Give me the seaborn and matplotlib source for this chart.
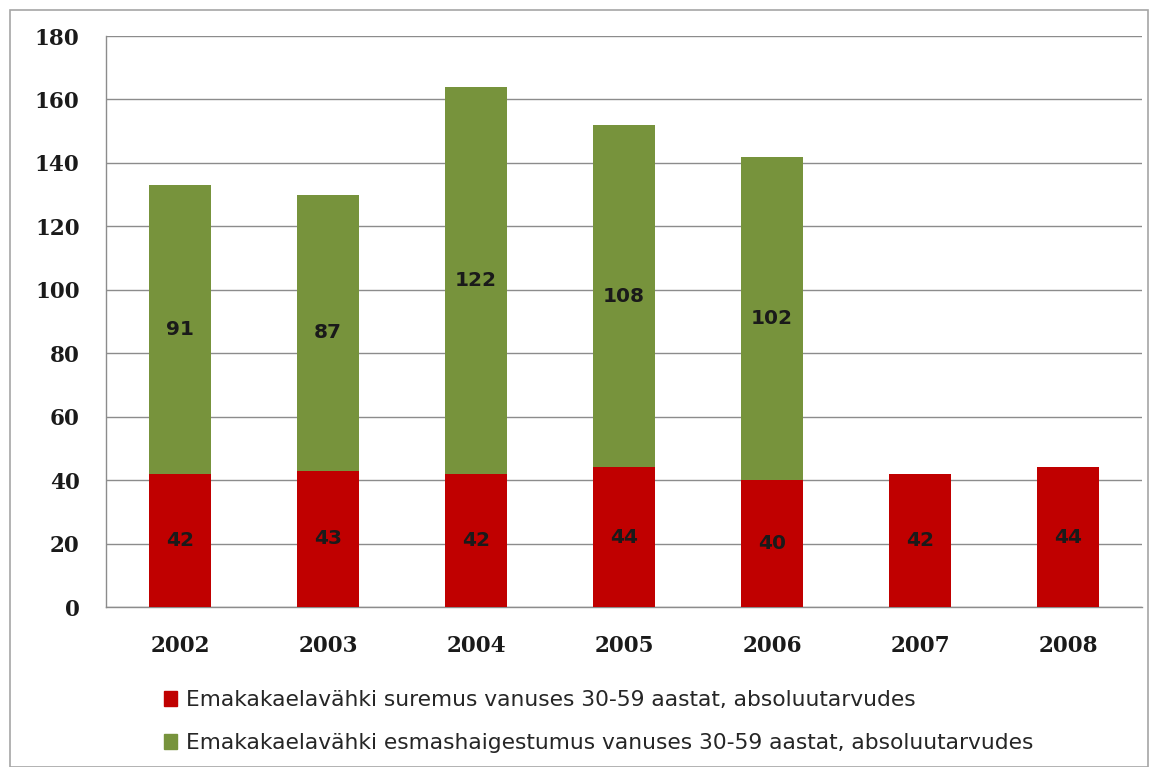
import matplotlib
matplotlib.use("Agg")
import matplotlib.pyplot as plt
import seaborn as sns
import numpy as np
import pandas as pd
from matplotlib.patches import Patch, Rectangle

years = ["2002", "2003", "2004", "2005", "2006", "2007", "2008"]
mortality = [42, 43, 42, 44, 40, 42, 44]
incidence = [91, 87, 122, 108, 102, np.nan, np.nan]
label_mort = "Emakakaelavähki suremus vanuses 30-59 aastat, absoluutarvudes"
label_inc = "Emakakaelavähki esmashaigestumus vanuses 30-59 aastat, absoluutarvudes"

RED = "#C00000"
GREEN = "#77933C"
GRID = "#8C8C8C"

sns.set_style("white")
plt.rcParams['font.family'] = ['DejaVu Sans']

df = pd.DataFrame({"year": years, "mort": mortality, "inc": incidence})
df["total"] = df["mort"] + df["inc"].fillna(0)

fig = plt.figure(figsize=(11.6, 7.67), dpi=100)
ax = fig.add_axes([0.0914, 0.2086, 0.8931, 0.7444])

sns.barplot(data=df, x="year", y="total", color=GREEN, width=0.42, ax=ax,
            saturation=1, zorder=3, linewidth=0)
sns.barplot(data=df, x="year", y="mort", color=RED, width=0.42, ax=ax,
            saturation=1, zorder=4, linewidth=0)

ax.set_xlim(-0.5, len(years) - 0.5)
ax.set_ylim(0, 180)
ax.set_yticks(np.arange(0, 181, 20))
ax.yaxis.grid(True, color=GRID, linewidth=1.0, zorder=0)
ax.set_axisbelow(True)
ax.set_xlabel("")
ax.set_ylabel("")

for s in ["top", "right"]:
    ax.spines[s].set_visible(False)
for s in ["left", "bottom"]:
    ax.spines[s].set_color(GRID)
    ax.spines[s].set_linewidth(1.0)

ax.tick_params(axis="y", length=7, width=1, color=GRID, direction="out", pad=12)
ax.tick_params(axis="x", which="major", length=0, pad=20)
ax.set_xticks(np.arange(-0.5, len(years), 1.0), minor=True)
ax.tick_params(axis="x", which="minor", length=6, width=1, color=GRID, direction="out")

for lab in ax.get_yticklabels() + ax.get_xticklabels():
    lab.set_fontfamily("DejaVu Serif")
    lab.set_fontweight("bold")
    lab.set_fontsize(15.5)
    lab.set_color("#1a1a1a")

for i, (m, inc) in enumerate(zip(mortality, incidence)):
    ax.text(i, m / 2, f"{m}", ha="center", va="center", fontsize=14.5,
            fontweight="bold", color="#1a1a1a", zorder=5)
    if not np.isnan(inc):
        ax.text(i, m + inc / 2, f"{int(inc)}", ha="center", va="center",
                fontsize=14.5, fontweight="bold", color="#1a1a1a", zorder=5)

handles = [Patch(facecolor=RED, edgecolor=RED, label=label_mort),
           Patch(facecolor=GREEN, edgecolor=GREEN, label=label_inc)]
fig.legend(handles=handles, loc="upper left", bbox_to_anchor=(0.141, 0.1),
           frameon=False, fontsize=15.7, handlelength=0.6, handleheight=0.7,
           handletextpad=0.45, labelspacing=1.05, borderaxespad=0, borderpad=0)

fig.patches.append(Rectangle((10 / 1160, 0.0), 1138 / 1160, 1 - 10 / 767,
                             transform=fig.transFigure, fill=False,
                             edgecolor="#A6A6A6", linewidth=1.2))

fig.savefig("out.png", dpi=100)
